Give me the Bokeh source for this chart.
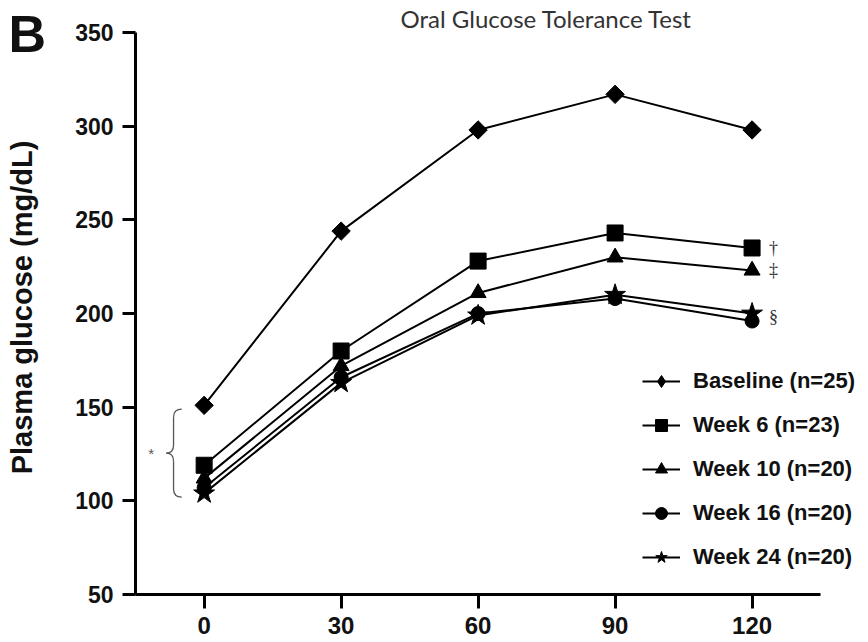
import math

from bokeh.core.properties import value
from bokeh.embed import file_html
from bokeh.models import FixedTicker, Label, Legend, LegendItem, Range1d
from bokeh.plotting import figure
from bokeh.resources import INLINE

# Time after glucose load (min)
times = [0, 30, 60, 90, 120]

# Mean plasma glucose (mg/dL) at each visit
baseline = [151, 244, 298, 317, 298]
week6 = [119, 180, 228, 243, 235]
week10 = [112, 172, 211, 230, 223]
week16 = [107, 166, 200, 208, 196]
week24 = [104, 163, 199, 210, 200]

series_labels = [
    "Baseline (n=25)",
    "Week 6 (n=23)",
    "Week 10 (n=20)",
    "Week 16 (n=20)",
    "Week 24 (n=20)",
]

x_ticks = [0, 30, 60, 90, 120]
y_ticks = [50, 100, 150, 200, 250, 300, 350]

# Significance symbols shown beside the 120-min values
sig_symbols = ["†", "‡", "§"]
sig_levels = [week6[-1], week10[-1], (week16[-1] + week24[-1]) / 2]

# Fasting (0 min) group bracket
brace_low = 102
brace_high = 149

FONT = "Liberation Sans"

# The frame fills the whole canvas; both axes are pinned at data positions so
# the panel letter, tick labels and axis title all have room inside it.
p = figure(
    width=868,
    height=642,
    x_range=Range1d(-44.6, 145.5),
    y_range=Range1d(24.4, 367.1),
    output_backend="svg",
    toolbar_location=None,
    min_border=0,
)
p.outline_line_color = None
p.xgrid.visible = False
p.ygrid.visible = False
p.background_fill_color = "white"
p.border_fill_color = "white"

p.xaxis.fixed_location = 50
p.yaxis.fixed_location = -15
p.xaxis.bounds = (-15, 135)
p.yaxis.bounds = (50, 350)
p.xaxis.ticker = FixedTicker(ticks=x_ticks)
p.yaxis.ticker = FixedTicker(ticks=y_ticks)
for ax in (p.xaxis[0], p.yaxis[0]):
    ax.axis_line_width = 3
    ax.axis_line_color = "black"
    ax.major_tick_line_width = 3
    ax.major_tick_line_color = "black"
    ax.major_tick_in = 0
    ax.minor_tick_line_color = None
    ax.major_label_text_font = FONT
    ax.major_label_text_font_style = "bold"
    ax.major_label_text_color = "#111111"
p.xaxis.major_tick_out = 14
p.yaxis.major_tick_out = 13
p.xaxis.major_label_text_font_size = "24px"
p.yaxis.major_label_text_font_size = "23px"
p.xaxis.major_label_standoff = 8
p.yaxis.major_label_standoff = 9

# y-axis title
p.add_layout(
    Label(
        x=21,
        y=335,
        x_units="screen",
        y_units="screen",
        angle=math.pi / 2,
        text="Plasma glucose (mg/dL)",
        text_font=FONT,
        text_font_style="bold",
        text_font_size="29px",
        text_color="#111111",
        text_align="center",
        text_baseline="middle",
    )
)

# series
styles = [
    (baseline, dict(marker="square", angle=math.pi / 4, size=13)),
    (week6, dict(marker="square", size=16)),
    (week10, dict(marker="triangle", size=16)),
    (week16, dict(marker="circle", size=14)),
    (week24, dict(marker="star", size=22)),
]

items = []
for i, ((vals, mk), label) in enumerate(zip(styles, series_labels)):
    ln = p.line(times, vals, line_color="black", line_width=2)
    key = None
    if i == 0:
        # plain diamond under the rotated square; it supplies the legend glyph
        key = p.scatter(times, vals, marker="diamond", size=13,
                        fill_color="black", line_color="black")
    sc = p.scatter(times, vals, fill_color="black", line_color="black", **mk)
    items.append(LegendItem(label=label, renderers=[ln, key or sc]))

legend = Legend(
    items=items,
    location=(642, 70),
    padding=0,
    margin=0,
    spacing=14,
    glyph_width=38,
    glyph_height=30,
    label_height=30,
    label_standoff=13,
    label_text_font=FONT,
    label_text_font_style="bold",
    label_text_font_size="22px",
    label_text_color="#111111",
    border_line_color=None,
    background_fill_alpha=0,
)
p.add_layout(legend, "center")

# significance symbols
p.text(
    x=[times[-1]] * len(sig_symbols),
    y=sig_levels,
    text=sig_symbols,
    x_offset=17,
    text_font=value("Liberation Serif"),
    text_font_size="18px",
    text_color="#333333",
    text_baseline="middle",
    text_align="left",
)

# brace grouping the 0-min follow-up values
brace_mid = (brace_low + brace_high) / 2
end_x, spine_x, tip_x = -4.9, -6.7, -8.3
hook = 4.3
brace_style = dict(line_color="#555555", line_width=1.3)
p.quadratic(
    x0=[end_x, spine_x, tip_x, spine_x],
    y0=[brace_high, brace_mid + hook, brace_mid, brace_low + hook],
    x1=[spine_x, tip_x, spine_x, end_x],
    y1=[brace_high - hook, brace_mid, brace_mid - hook, brace_low],
    cx=[spine_x, spine_x, spine_x, spine_x],
    cy=[brace_high, brace_mid, brace_mid, brace_low],
    **brace_style,
)
p.segment(
    x0=[spine_x, spine_x],
    y0=[brace_high - hook, brace_mid - hook],
    x1=[spine_x, spine_x],
    y1=[brace_mid + hook, brace_low + hook],
    **brace_style,
)
p.text(
    x=[-11.6],
    y=[brace_mid],
    text=["*"],
    text_font=value("Liberation Sans"),
    text_font_size="15px",
    text_color="#555555",
    text_align="center",
    text_baseline="middle",
)

# panel letter and title
p.add_layout(
    Label(
        x=8,
        y=609,
        x_units="screen",
        y_units="screen",
        text="B",
        text_font=FONT,
        text_font_style="bold",
        text_font_size="52px",
        text_color="#111111",
        text_align="left",
        text_baseline="alphabetic",
    )
)
p.add_layout(
    Label(
        x=546,
        y=624,
        x_units="screen",
        y_units="screen",
        text="Oral Glucose Tolerance Test",
        text_font="Lato",
        text_font_size="24px",
        text_color="#333333",
        text_align="center",
        text_baseline="alphabetic",
    )
)

open("out.html", "w").write(file_html(p, INLINE))
